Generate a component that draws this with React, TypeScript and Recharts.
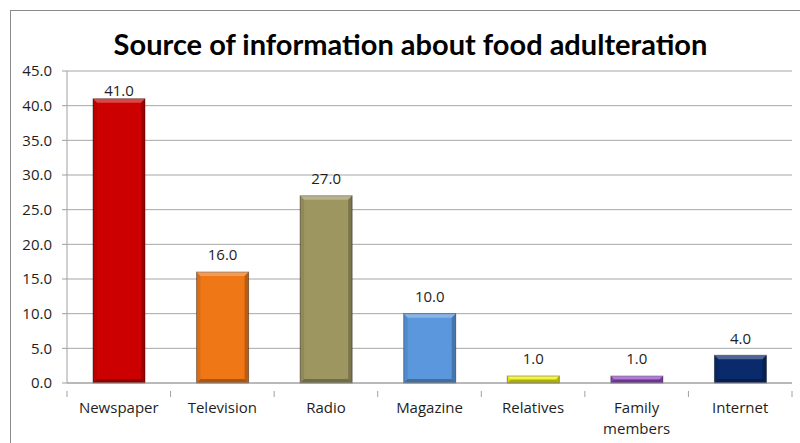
import { BarChart, Bar, XAxis, YAxis, CartesianGrid, LabelList, Cell } from 'recharts';

const categories = ['Newspaper', 'Television', 'Radio', 'Magazine', 'Relatives', 'Family members', 'Internet'];
const values = [41, 16, 27, 10, 1, 1, 4];
const colors = ['#CC0000', '#F07716', '#9E9660', '#5A97DD', '#F2F200', '#9448C8', '#0A2A6C'];
const yTicks = [0, 5, 10, 15, 20, 25, 30, 35, 40, 45];

const data = categories.map((name, i) => ({ name, value: values[i], color: colors[i] }));

const FONT = '"Open Sans", sans-serif';
const TITLE_FONT = 'Lato, "Open Sans", sans-serif';
const TEXT = '#1e1e1e';

function BevelBar(props: any) {
  const { x, y, width: w, height: h, fill } = props;
  if (!h || h <= 0) return null;
  const b = Math.min(4, h / 2, w / 2);
  return (
    <g>
      <rect x={x} y={y} width={w} height={h} fill={fill} stroke="rgba(0,0,0,0.4)" strokeWidth={1} />
      <polygon points={`${x},${y} ${x + w},${y} ${x + w - b},${y + b} ${x + b},${y + b}`} fill="rgba(255,255,255,0.28)" />
      <polygon points={`${x},${y} ${x + b},${y + b} ${x + b},${y + h - b} ${x},${y + h}`} fill="rgba(0,0,0,0.08)" />
      <polygon points={`${x + w},${y} ${x + w - b},${y + b} ${x + w - b},${y + h - b} ${x + w},${y + h}`} fill="rgba(0,0,0,0.22)" />
      <polygon points={`${x},${y + h} ${x + b},${y + h - b} ${x + w - b},${y + h - b} ${x + w},${y + h}`} fill="rgba(0,0,0,0.28)" />
    </g>
  );
}

function CategoryTick(props: any) {
  const { x, y, payload, index, width, visibleTicksCount } = props;
  const band = width && visibleTicksCount ? width / visibleTicksCount : 0;
  const words = String(payload.value).split(' ');
  return (
    <g>
      {band > 0 && (
        <line x1={x - band / 2} x2={x - band / 2} y1={y} y2={y + 6} stroke="#a0a0a0" />
      )}
      {band > 0 && index === visibleTicksCount - 1 && (
        <line x1={x + band / 2} x2={x + band / 2} y1={y} y2={y + 6} stroke="#a0a0a0" />
      )}
      <text x={x} y={y + 22} textAnchor="middle" fontFamily={FONT} fontSize={15} fill={TEXT}>
        {words.map((w, i) => (
          <tspan key={i} x={x} dy={i === 0 ? 0 : 21}>{w}</tspan>
        ))}
      </text>
    </g>
  );
}

function ValueLabel(props: any) {
  const { x, y, width, value } = props;
  // keep the label inside the plot when the bar is close to the top
  const cy = Math.max(y - 17, 91);
  return (
    <text x={x + width / 2} y={cy} dy="0.35em" textAnchor="middle" fontFamily={FONT} fontSize={15} fill={TEXT}>
      {Number(value).toFixed(1)}
    </text>
  );
}

export default function App() {
  return (
    <div style={{ position: 'fixed', left: 0, top: 0, width: 800, height: 443, overflow: 'hidden', background: '#fff' }}>
      <div
        style={{
          position: 'absolute',
          left: 10,
          top: 10,
          width: 820,
          height: 460,
          borderLeft: '1.5px solid #8a8a8a',
          borderTop: '1.5px solid #8a8a8a',
        }}
      />
      <div
        style={{
          position: 'absolute',
          left: 0,
          top: 27,
          width: 821,
          textAlign: 'center',
          fontFamily: TITLE_FONT,
          fontWeight: 700,
          fontSize: 29,
          lineHeight: '34px',
          color: '#000',
        }}
      >
        Source of information about food adulteration
      </div>
      <div style={{ position: 'absolute', left: 0, top: 0 }}>
        <BarChart width={800} height={443} data={data} margin={{ top: 71, right: 8, left: 10, bottom: 10 }}>
          <CartesianGrid vertical={false} stroke="#a6a6a6" strokeWidth={1} />
          <XAxis
            dataKey="name"
            height={50}
            stroke="#a0a0a0"
            tickLine={false}
            interval={0}
            tick={<CategoryTick />}
          />
          <YAxis
            width={57}
            domain={[0, 45]}
            ticks={yTicks}
            interval={0}
            stroke="#a0a0a0"
            tickSize={5}
            tickMargin={10}
            tickFormatter={(v: number) => v.toFixed(1)}
            tick={{ fontFamily: FONT, fontSize: 15, fill: TEXT }}
          />
          <Bar dataKey="value" barSize={52} isAnimationActive={false} shape={<BevelBar />}>
            {data.map((d) => (
              <Cell key={d.name} fill={d.color} />
            ))}
            <LabelList dataKey="value" content={<ValueLabel />} />
          </Bar>
        </BarChart>
      </div>
    </div>
  );
}
